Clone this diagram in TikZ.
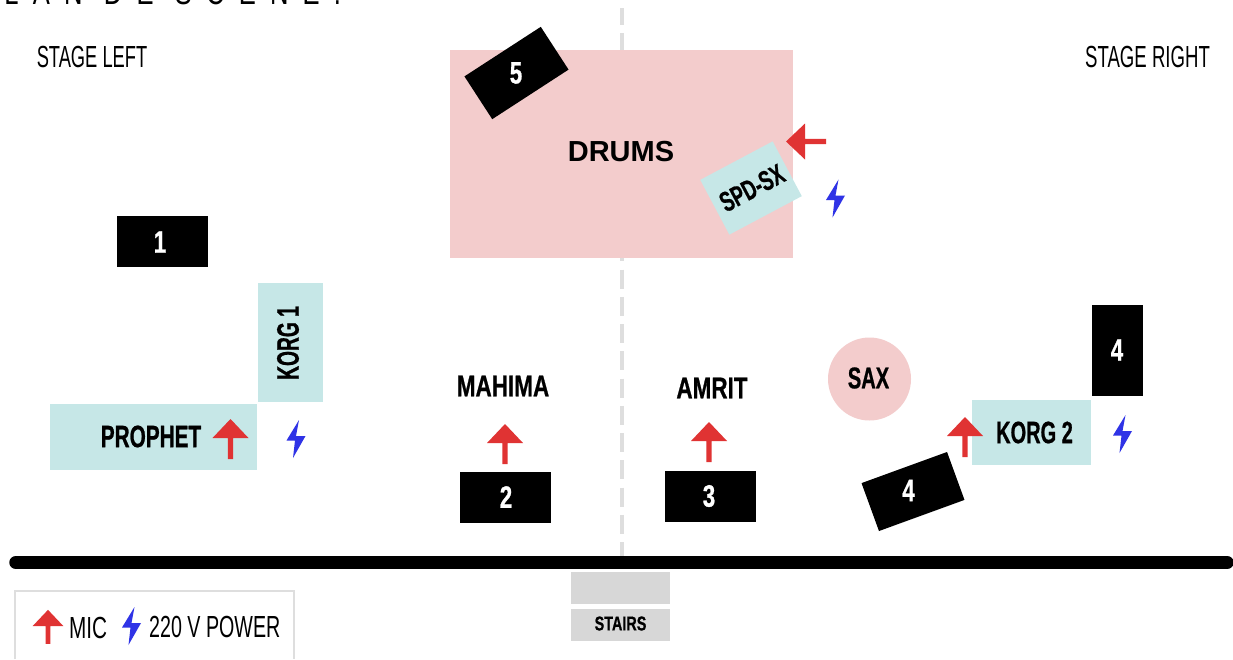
\documentclass[tikz,border=0pt]{standalone}
\usepackage{fontspec}
\setmainfont[FakeStretch=0.72]{Liberation Sans}
\newcommand{\stretchto}[1]{\addfontfeature{FakeStretch=#1}}
\newcommand{\heavyto}[1]{\addfontfeature{FakeStretch=#1,FakeBold=0.7}}
\definecolor{pinkbox}{HTML}{F3CCCC}
\definecolor{tealbox}{HTML}{C6E7E7}
\definecolor{micred}{HTML}{E03333}
\definecolor{powerblue}{HTML}{2F33E6}
\definecolor{greybox}{HTML}{D7D7D7}
\definecolor{dashgrey}{HTML}{DEDEDE}
\tikzset{
  x=1pt,y=-1pt,
  ampbox/.style={fill=black,inner sep=0pt,anchor=center},
  digit/.style={text=white,inner sep=0pt,font=\bfseries\fontsize{31}{31}\selectfont\heavyto{0.72},anchor=center},
  kbd/.style={fill=tealbox,inner sep=0pt,anchor=center},
  lbl/.style={inner sep=0pt,font=\bfseries\fontsize{30}{30}\selectfont,anchor=center},
  plainlbl/.style={inner sep=0pt,font=\fontsize{30.5}{30.5}\selectfont,anchor=center},
  micpic/.pic={\fill[micred] (-18,0)--(0,-19)--(18,0)--(2.7,0)--(2.7,21)--(-2.7,21)--(-2.7,0)--cycle;},
  boltpic/.pic={\fill[powerblue] (3,-19)--(-9.5,1.5)--(-1,1.5)--(-3,19)--(9.5,-3)--(0,-3)--cycle;}
}
\begin{document}
\begin{tikzpicture}
\useasboundingbox (0,0) rectangle (1233,659);
\fill[white] (0,0) rectangle (1233,659);
\begin{scope}
\clip (0,0) rectangle (1233,659);
\node[anchor=base west,inner sep=0pt,font=\fontsize{35.5}{35.5}\selectfont] (title) at (-27,4.5) {\addfontfeature{LetterSpace=40}PLAN DE SCENE.};
\end{scope}
% centre line
\coordinate (lt) at (622,8);
\coordinate (lm) at (622,50);
\coordinate (lu) at (622,242.3);
\coordinate (lb) at (622,557);
\draw[dashgrey,line width=4.4pt,dash pattern=on 17pt off 8pt] (lt) -- (lm);
\draw[dashgrey,line width=4.4pt,dash pattern=on 19pt off 8.25pt] (lu) -- (lb);
% drums
\node[fill=pinkbox,minimum width=343pt,minimum height=208pt,inner sep=0pt] (drums) at (621.5,154) {};
\node[font=\bfseries\fontsize{29}{29}\selectfont,inner sep=0pt] (drumlbl) at (621,152) {\stretchto{1}DRUMS};
\node[ampbox,minimum width=91pt,minimum height=51pt,rotate=33] (a5) at (516.5,73) {};
\node[digit] (a5l) at (516,73) {5};
\node[kbd,minimum width=82pt,minimum height=62pt,rotate=28] (spd) at (751,188) {};
\node[lbl,rotate=28,font=\bfseries\fontsize{28}{28}\selectfont] (spdl) at (752,188) {\heavyto{0.66}SPD-SX};
\pic[rotate=90] at (805,141.5) {micpic};
\pic at (835.5,198.5) {boltpic};
% left
\node[ampbox,minimum width=91pt,minimum height=51pt] (a1) at (162,241.5) {};
\node[digit] (a1l) at (160,242) {1};
\node[kbd,minimum width=65pt,minimum height=119pt] (k1) at (290.5,342.5) {};
\node[lbl,rotate=90,font=\bfseries\fontsize{31}{31}\selectfont] (k1l) at (288,343) {\heavyto{0.62}KORG 1};
\node[kbd,minimum width=207pt,minimum height=66pt] (pr) at (153.5,436.5) {};
\node[lbl,font=\bfseries\fontsize{31}{31}\selectfont] (prl) at (151,436.5) {\heavyto{0.67}PROPHET};
\pic at (230.5,438) {micpic};
\pic at (296,439) {boltpic};
% middle
\node[lbl] (mah) at (503,386) {\heavyto{0.75}MAHIMA};
\pic at (505,443) {micpic};
\node[ampbox,minimum width=91pt,minimum height=51pt] (a2) at (505,497) {};
\node[digit] (a2l) at (506,497) {2};
\node[lbl] (amr) at (712,388) {\heavyto{0.75}AMRIT};
\pic at (709,441) {micpic};
\node[ampbox,minimum width=91pt,minimum height=51pt] (a3) at (710,496) {};
\node[digit] (a3l) at (709,496) {3};
% right
\node[circle,fill=pinkbox,minimum size=83pt,inner sep=0pt] (sax) at (869.5,379) {};
\node[lbl] (saxl) at (868.5,378) {\heavyto{0.67}SAX};
\node[kbd,minimum width=119pt,minimum height=65pt] (k2) at (1031.5,432) {};
\node[lbl,font=\bfseries\fontsize{31}{31}\selectfont] (k2l) at (1034.5,432.5) {\heavyto{0.645}KORG 2};
\pic at (965,436) {micpic};
\pic at (1122.5,434) {boltpic};
\node[ampbox,minimum width=51pt,minimum height=91pt] (a4a) at (1117.5,350) {};
\node[digit] (a4al) at (1117,350) {4};
\node[ampbox,minimum width=91pt,minimum height=51pt,rotate=20] (a4b) at (913,491.5) {};
\node[digit] (a4bl) at (908.5,490.5) {4};
% stage labels
\node[plainlbl] (sl) at (92,57) {\stretchto{0.6}STAGE LEFT};
\node[plainlbl] (sr) at (1147.5,57) {\stretchto{0.61}STAGE RIGHT};
% stage edge
\coordinate (el) at (16,562.5);
\coordinate (er) at (1227,562.5);
\draw[black,line width=13.5pt,line cap=round] (el) -- (er);
% stairs
\node[fill=greybox,minimum width=99pt,minimum height=32pt,inner sep=0pt] (st1) at (620.5,588) {};
\node[fill=greybox,minimum width=99pt,minimum height=32pt,inner sep=0pt] (st2) at (620.5,624.5) {};
\node[inner sep=0pt,font=\bfseries\fontsize{20}{20}\selectfont] (st2l) at (620.5,623.5) {\heavyto{0.72}STAIRS};
% legend
\draw[black!13,line width=2pt] (15,659) -- (15,591) -- (294,591) -- (294,659);
\pic[scale=0.85] at (48,626) {micpic};
\node[plainlbl,anchor=west] (micl) at (69,628) {\stretchto{0.68}MIC};
\pic at (131.5,626) {boltpic};
\node[plainlbl,anchor=west] (powl) at (149,627) {\stretchto{0.645}220 V POWER};
\end{tikzpicture}
\end{document}
